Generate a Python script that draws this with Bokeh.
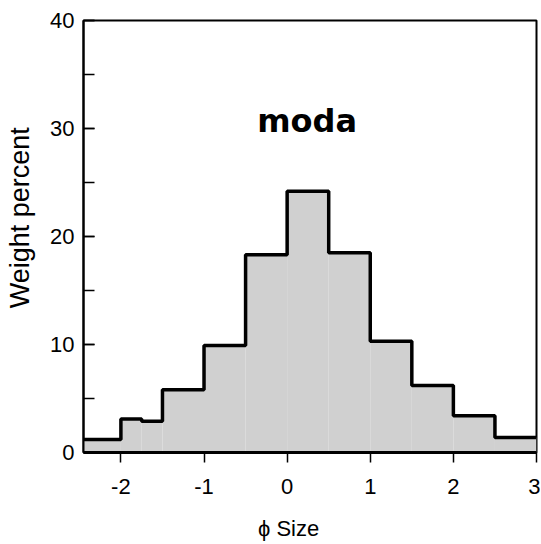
from bokeh.plotting import figure
from bokeh.models import Range1d, SingleIntervalTicker, FixedTicker, Label
from bokeh.embed import file_html
from bokeh.resources import INLINE

# Data
bin_edges = [-2.5, -2.0, -1.75, -1.5, -1.0, -0.5, 0.0, 0.5, 1.0, 1.5, 2.0, 2.5, 3.0]
weight_percent = [1.2, 3.1, 2.9, 5.8, 9.9, 18.3, 24.2, 18.5, 10.3, 6.2, 3.4, 1.4]
x_ticks = [-2, -1, 0, 1, 2, 3]
x_tick_labels = ["-2", "-1", "0", "1", "2", "3"]
annotation_text = "moda"
x_title = "\u03d5 Size"
y_title = "Weight percent"

p = figure(width=540, height=543, output_backend="svg", toolbar_location=None,
           x_range=Range1d(-2.45, 3.0), y_range=Range1d(0, 40),
           min_border_left=83, min_border_right=4, min_border_top=20, min_border_bottom=90)
p.grid.visible = False
p.outline_line_color = "black"
p.outline_line_width = 2
p.background_fill_color = "white"
p.border_fill_color = "white"

p.quad(left=bin_edges[:-1], right=bin_edges[1:], bottom=0, top=weight_percent,
       fill_color="#d0d0d0", line_color=None)
p.step(x=bin_edges, y=weight_percent + [weight_percent[-1]], mode="after",
       line_color="black", line_width=3.5)

tick_font = "Liberation Sans"

# y axis
ya = p.yaxis[0]
ya.ticker = SingleIntervalTicker(interval=10, num_minor_ticks=2)
ya.axis_line_width = 2
ya.major_tick_in = 11
ya.major_tick_out = 0
ya.minor_tick_in = 11
ya.minor_tick_out = 0
ya.major_tick_line_width = 1.5
ya.minor_tick_line_width = 1.5
ya.major_label_text_font = tick_font
ya.major_label_text_font_size = "22px"
ya.major_label_text_color = "black"
ya.major_label_standoff = 9
ya.axis_label = "\u00a0" * 5 + y_title
ya.axis_label_text_font = "Liberation Sans"
ya.axis_label_text_font_style = "normal"
ya.axis_label_text_font_size = "27px"
ya.axis_label_text_color = "black"
ya.axis_label_standoff = 12

# x axis
xa = p.xaxis[0]
xa.ticker = FixedTicker(ticks=x_ticks)
xa.major_label_overrides = {t: s for t, s in zip(x_ticks, x_tick_labels)}
xa.axis_line_width = 3
xa.major_tick_in = 0
xa.major_tick_out = 10
xa.minor_tick_out = 0
xa.major_tick_line_width = 1.5
xa.major_label_text_font = tick_font
xa.major_label_text_font_size = "22px"
xa.major_label_text_color = "black"
xa.major_label_standoff = 16
xa.axis_label = x_title + "\u00a0" * 7
xa.axis_label_text_font = "Liberation Sans"
xa.axis_label_text_font_style = "normal"
xa.axis_label_text_font_size = "22px"
xa.axis_label_text_color = "black"
xa.axis_label_standoff = 19

p.add_layout(Label(x=0.24, y=30.7, text=annotation_text, text_font="DejaVu Sans",
                   text_font_style="bold", text_font_size="32px", text_align="center",
                   text_baseline="alphabetic", text_color="black"))

open("out.html", "w").write(file_html(p, INLINE))
